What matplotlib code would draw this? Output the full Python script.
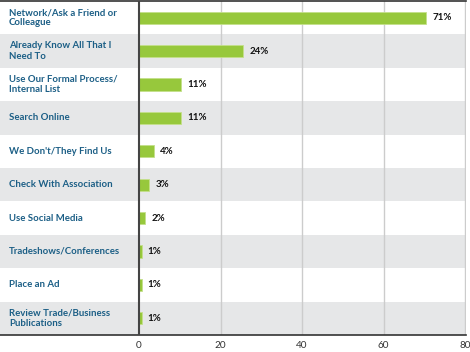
import matplotlib
matplotlib.use("Agg")
import matplotlib.pyplot as plt

categories = [
    "Network/Ask a Friend or\nColleague",
    "Already Know All That I\nNeed To",
    "Use Our Formal Process/\nInternal List",
    "Search Online",
    "We Don't/They Find Us",
    "Check With Association",
    "Use Social Media",
    "Tradeshows/Conferences",
    "Place an Ad",
    "Review Trade/Business\nPublications",
]
values = [70.5, 25.5, 10.2, 10.2, 3.7, 2.5, 1.5, 0.6, 0.6, 0.6]
value_labels = ["71%", "24%", "11%", "11%", "4%", "3%", "2%", "1%", "1%", "1%"]
xticks = [0, 20, 40, 60, 80]

W, H = 470, 352
fig = plt.figure(figsize=(W / 100, H / 100), dpi=100)
ax = fig.add_axes([0, 1 - 335 / H, 466 / W, 334 / H])

x_left = -139 / 4.075
x_right = 80.2
ax.set_xlim(x_left, x_right)
n = len(categories)
ax.set_ylim(n - 0.5, -0.5)

band = "#e6e7e8"
for i in range(n):
    if i % 2 == 1:
        ax.axhspan(i - 0.5, i + 0.5, color=band, zorder=0, lw=0)

for t in xticks[1:]:
    ax.axvline(t, color="#cccccc", lw=1, zorder=1)
ax.axvline(0, color="#444444", lw=1.5, zorder=3)

ax.barh(range(n), values, height=0.36, color="#97c83c", edgecolor="#c4e08a",
        linewidth=0.6, zorder=2)

font = "Lato"
for i, (c, v, lab) in enumerate(zip(categories, values, value_labels)):
    ax.text(x_left + 9 / 4.075, i, c, ha="left", va="center", fontsize=6.9,
            color="#1c5f86", fontweight="bold", family=font, linespacing=1.2)
    ax.annotate(lab, (v, i), xytext=(4.5, 0), textcoords="offset points",
                ha="left", va="center", fontsize=7.0, fontweight="bold",
                color="#111111", family=font)

for s in ["left", "right"]:
    ax.spines[s].set_visible(False)
ax.spines["top"].set_color("#333333")
ax.spines["top"].set_linewidth(1.2)
ax.spines["bottom"].set_color("#333333")
ax.spines["bottom"].set_linewidth(1.2)

ax.set_yticks([])
ax.set_xticks(xticks)
ax.set_xticklabels([str(t) for t in xticks], fontsize=7.2, color="#333333",
                   family=font)
ax.tick_params(axis="x", length=0, pad=4)

fig.savefig("out.png", dpi=100)
